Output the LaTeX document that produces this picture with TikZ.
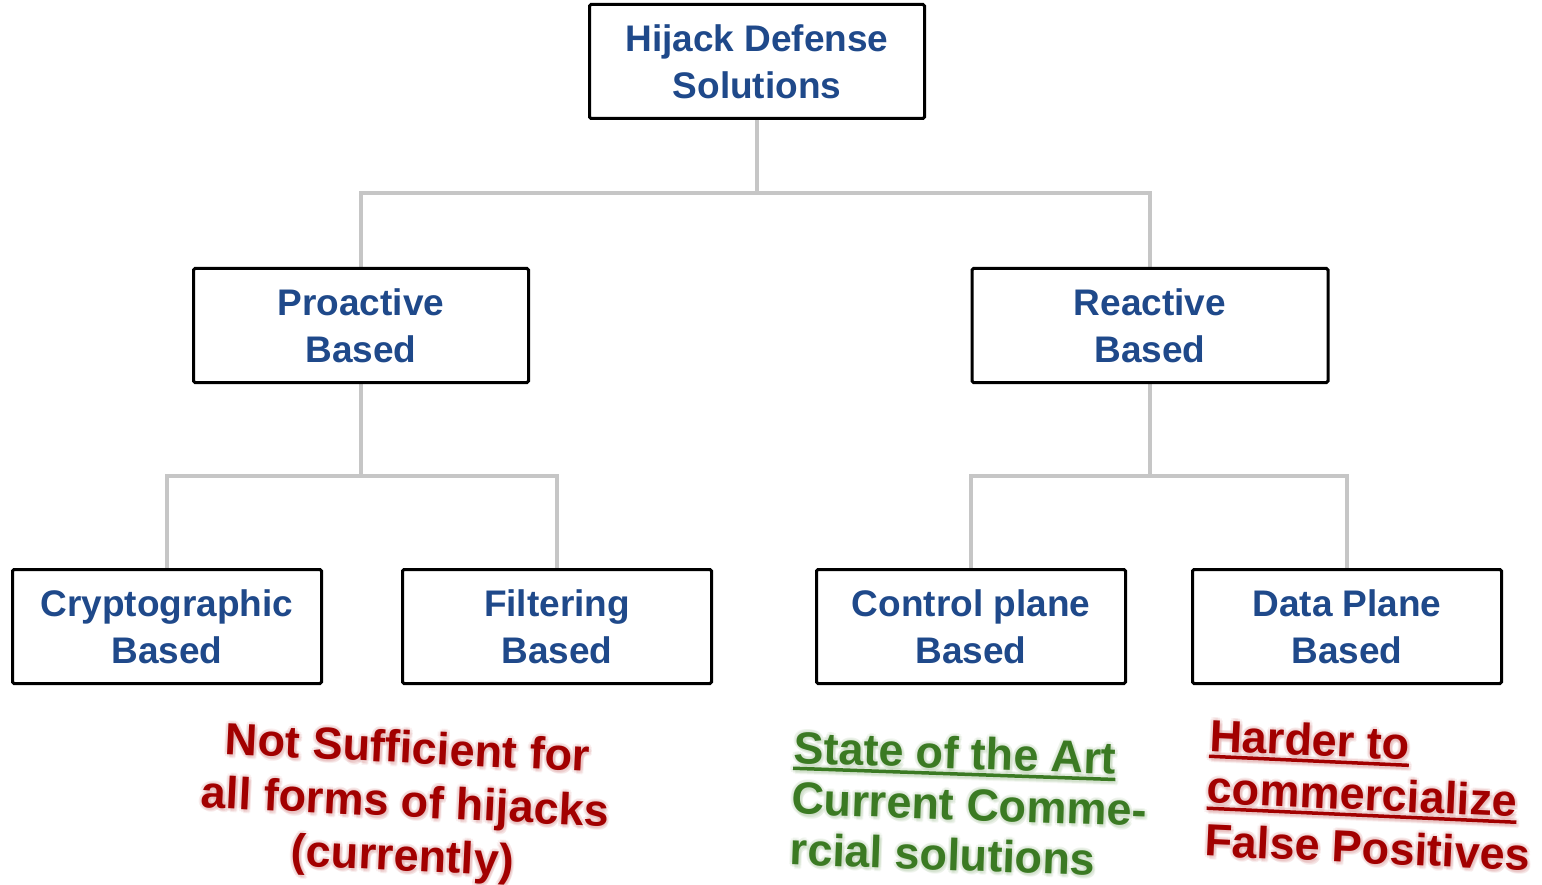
\documentclass[tikz,border=0pt]{standalone}
\usepackage{fontspec}
\setmainfont{Liberation Sans}
\usetikzlibrary{backgrounds}

\definecolor{boxblue}{RGB}{31,73,138}
\definecolor{linkgray}{RGB}{198,198,198}
\definecolor{notered}{RGB}{162,0,0}
\definecolor{notegreen}{RGB}{59,122,35}

% thick underline that follows the width of the text
\newcommand\ulx[1]{\setbox0\hbox{#1}\rlap{\copy0}\raisebox{-7pt}{\rule{\wd0}{3.5pt}}}

% one line of annotation text with a soft halo around it
% #1 name, #2 x, #3 y, #4 anchor, #5 colour, #6 text
\newcommand\glowline[6]{%
  \foreach \dx/\dy [count=\k] in {3/0,-3/0,0/3,0/-3,2/2,-2/2,2/-2,-2/-2,2/4,3/3}{%
    \node[notetext, anchor=#4, text=#5!45, text opacity=0.13] (#1-halo\k) at (#2+\dx,#3+\dy) {#6};}%
  \node[notetext, anchor=#4, text=#5] (#1) at (#2,#3) {#6};}

\begin{document}
\begin{tikzpicture}[x=1pt,y=-1pt,
  box/.style={draw=black, line width=3pt, rounded corners=1.5pt, fill=white,
    text=boxblue, align=center, inner sep=0pt, minimum height=114pt,
    font=\fontsize{37}{47}\selectfont\bfseries},
  link/.style={draw=linkgray, line width=4.5pt},
  notetext/.style={inner sep=0pt, font=\fontsize{45}{54}\selectfont\bfseries}]
\useasboundingbox (0,0) rectangle (1542,885);

% tree of boxes
\node[box, minimum width=335pt] (root) at (757,61.5) {Hijack Defense\\Solutions};
\node[box, minimum width=335pt] (pro) at (361,325.5) {Proactive\\Based};
\node[box, minimum width=356pt] (rea) at (1150,325.5) {Reactive\\Based};
\node[box, minimum width=309pt] (cry) at (167,626.5) {Cryptographic\\Based};
\node[box, minimum width=309pt] (fil) at (557,626.5) {Filtering\\Based};
\node[box, minimum width=309pt] (cp) at (971,626.5) {Control plane\\Based};
\node[box, minimum width=309pt] (dp) at (1347,626.5) {Data Plane\\Based};

% elbow connectors
\begin{scope}[on background layer]
  \coordinate (j0) at (757,193);
  \coordinate (j1) at (361,476);
  \coordinate (j2) at (1150,476);
  \draw[link] (root.south) -- (j0);
  \draw[link] (pro.north) |- (j0) -| (rea.north);
  \draw[link] (pro.south) -- (j1);
  \draw[link] (cry.north) |- (j1) -| (fil.north);
  \draw[link] (rea.south) -- (j2);
  \draw[link] (cp.north) |- (j2) -| (dp.north);
\end{scope}

% annotations under the leaves
\begin{scope}[shift={(407,763)}, rotate=-2.7, transform shape]
  \glowline{n1}{0}{0}{base}{notered}{Not Sufficient for}
  \glowline{n2}{0}{54}{base}{notered}{all forms of hijacks}
  \glowline{n3}{0}{108}{base}{notered}{(currently)}
\end{scope}

\begin{scope}[shift={(793,763)}, rotate=-2, transform shape]
  \glowline{g1}{0}{0}{base west}{notegreen}{\ulx{State of the Art}}
  \glowline{g2}{0}{51}{base west}{notegreen}{Current Comme-}
  \glowline{g3}{0}{102}{base west}{notegreen}{rcial solutions}
\end{scope}

\begin{scope}[shift={(1209,751)}, rotate=-2.6, transform shape]
  \glowline{h1}{0}{0}{base west}{notered}{\ulx{Harder to}}
  \glowline{h2}{0}{52}{base west}{notered}{\ulx{commercialize}}
  \glowline{h3}{0}{105}{base west}{notered}{False Positives}
\end{scope}
\end{tikzpicture}
\end{document}
